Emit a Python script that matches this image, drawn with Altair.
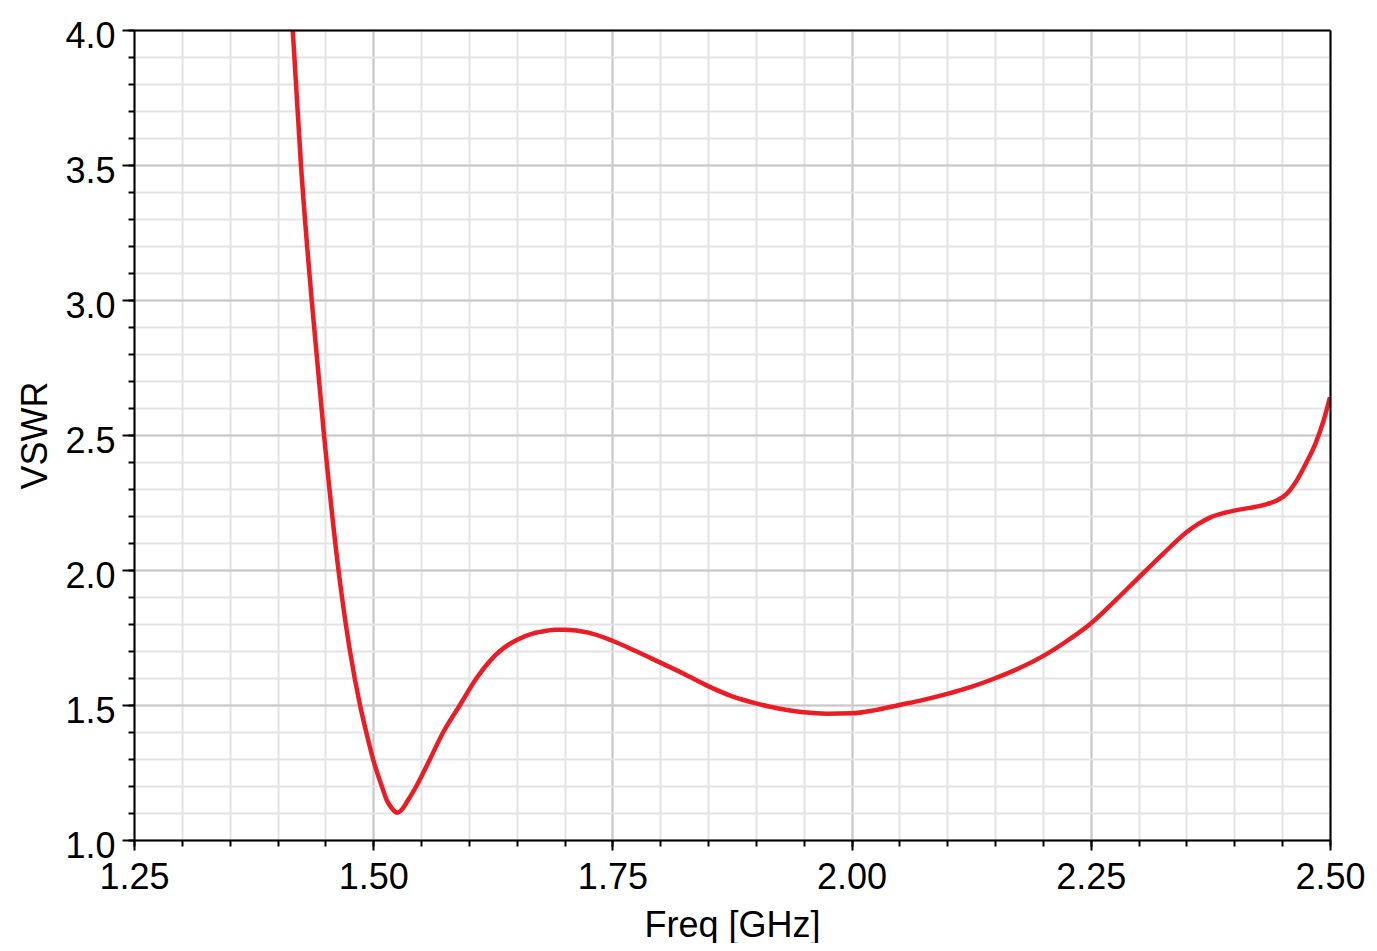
import altair as alt
import pandas as pd

freq = [1.4159, 1.4245, 1.4357, 1.4486, 1.4637, 1.4757, 1.4862, 1.4927, 1.4998,
        1.5089, 1.5141, 1.5200, 1.5252, 1.5310, 1.5365, 1.5452, 1.5594, 1.5733, 1.5907,
        1.6081, 1.6325, 1.650, 1.6673, 1.6813, 1.690, 1.700, 1.725, 1.750, 1.776,
        1.800, 1.825, 1.850, 1.876, 1.900, 1.925, 1.950, 1.974, 2.000, 2.025,
        2.050, 2.075, 2.100, 2.125, 2.150, 2.175, 2.200, 2.225, 2.250, 2.275,
        2.300, 2.325, 2.350, 2.362, 2.375, 2.390, 2.400, 2.416, 2.434, 2.445,
        2.455, 2.465, 2.475, 2.485, 2.493, 2.500]
vswr = [4.000, 3.500, 3.000, 2.500, 2.000, 1.700, 1.500, 1.400, 1.300,
        1.200, 1.148, 1.115, 1.101, 1.117, 1.148, 1.200, 1.300, 1.400, 1.500,
        1.600, 1.700, 1.741, 1.765, 1.775, 1.779, 1.779, 1.768, 1.738, 1.697,
        1.657, 1.615, 1.570, 1.531, 1.506, 1.486, 1.473, 1.468, 1.469, 1.481,
        1.500, 1.519, 1.541, 1.567, 1.599, 1.636, 1.681, 1.737, 1.802, 1.885,
        1.972, 2.058, 2.140, 2.170, 2.195, 2.212, 2.220, 2.230, 2.244, 2.258,
        2.283, 2.330, 2.395, 2.470, 2.550, 2.640]

x_major = [1.25, 1.50, 1.75, 2.00, 2.25, 2.50]
x_minor = [round(1.25 + 0.05 * i, 2) for i in range(26)]
y_major = [1.0, 1.5, 2.0, 2.5, 3.0, 3.5, 4.0]
y_minor = [round(1.0 + 0.1 * i, 1) for i in range(31)]

df = pd.DataFrame({"f": freq, "v": vswr})

FONT = "Liberation Sans"
xs = alt.Scale(domain=[1.25, 2.5], nice=False, zero=False)
ys = alt.Scale(domain=[1.0, 4.0], nice=False, zero=False)

base = alt.Chart(df)

minor = base.mark_line(opacity=0).encode(
    x=alt.X("f:Q", scale=xs, axis=alt.Axis(
        orient="bottom", values=x_minor, labels=False, title=None, domain=False,
        grid=True, gridColor="#e3e3e3", gridWidth=2,
        ticks=True, tickSize=6, tickWidth=2, tickColor="black", zindex=0)),
    y=alt.Y("v:Q", scale=ys, axis=alt.Axis(
        orient="left", values=y_minor, labels=False, title=None, domain=False,
        grid=True, gridColor="#e3e3e3", gridWidth=2,
        ticks=True, tickSize=6, tickWidth=2, tickColor="black", zindex=0)),
)

major = base.mark_line(color="#ED1C24", strokeWidth=4.5, interpolate="monotone", clip=True).encode(
    x=alt.X("f:Q", scale=xs, axis=alt.Axis(
        orient="bottom", values=x_major, format=".2f", title="Freq [GHz]",
        domain=False, grid=True, gridColor="#c8c8c8", gridWidth=2,
        ticks=True, tickSize=10, tickWidth=2, tickColor="black",
        labelFont=FONT, labelFontSize=36, labelColor="black", labelPadding=10,
        labelFlush=False, labelOverlap=False,
        titleFont=FONT, titleFontSize=36, titleFontWeight="normal", titleColor="black",
        titlePadding=13, zindex=0)),
    y=alt.Y("v:Q", scale=ys, axis=alt.Axis(
        orient="left", values=y_major, format=".1f", title="VSWR",
        domain=False, grid=True, gridColor="#c8c8c8", gridWidth=2,
        ticks=True, tickSize=12, tickWidth=2, tickColor="black",
        labelFont=FONT, labelFontSize=36, labelColor="black", labelPadding=7,
        labelFlush=False, labelOverlap=False, labelOffset=6,
        titleFont=FONT, titleFontSize=36, titleFontWeight="normal", titleColor="black",
        titlePadding=10, zindex=0)),
)

def border_axis(orient):
    return alt.Axis(orient=orient, labels=False, ticks=False, grid=False, title=None,
                    domain=True, domainColor="black", domainWidth=2, zindex=1)

border_bl = base.mark_line(opacity=0).encode(
    x=alt.X("f:Q", scale=xs, axis=border_axis("bottom")),
    y=alt.Y("v:Q", scale=ys, axis=border_axis("left")),
)
border_tr = base.mark_line(opacity=0).encode(
    x=alt.X("f:Q", scale=xs, axis=border_axis("top")),
    y=alt.Y("v:Q", scale=ys, axis=border_axis("right")),
)

chart = alt.layer(minor, major, border_bl, border_tr).resolve_axis(
    x="independent", y="independent"
).properties(
    width=1196, height=810,
    autosize=alt.AutoSizeParams(type="none"),
    padding={"left": 126, "top": 22, "right": 39, "bottom": 103},
    background="white",
).configure_view(stroke=None)

chart.save("out.html", embed_options={"renderer": "svg", "actions": False})
